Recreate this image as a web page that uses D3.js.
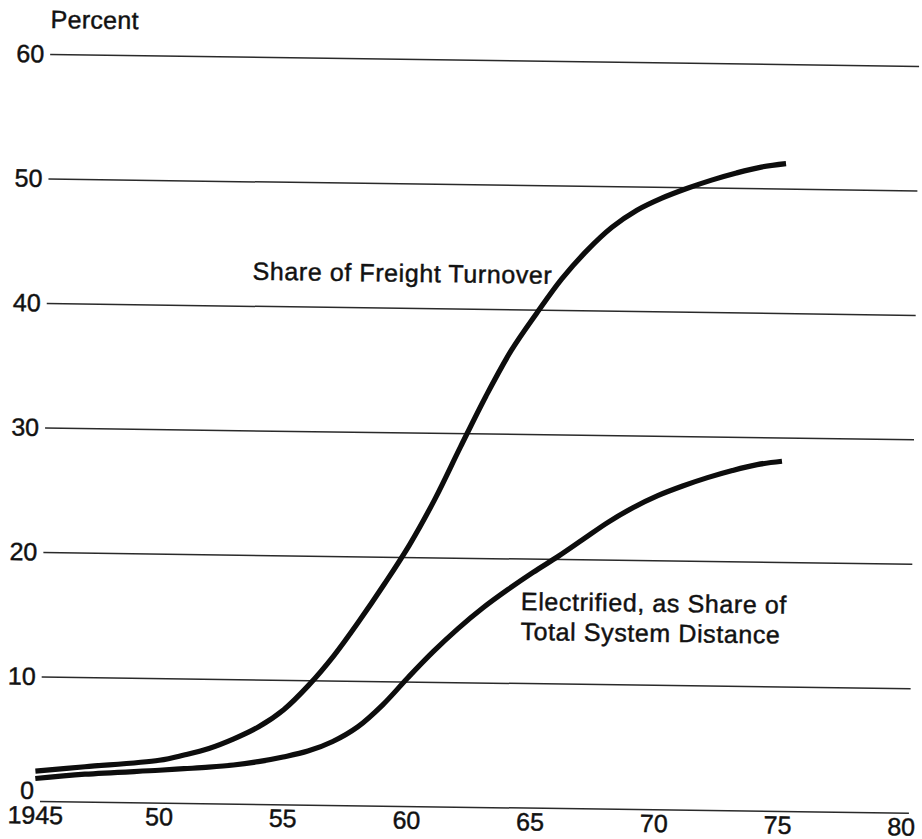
<!DOCTYPE html>
<html>
<head>
<meta charset="utf-8">
<script src="https://cdn.jsdelivr.net/npm/d3@7"></script>
<style>
  html, body { margin: 0; padding: 0; background: #fff; }
  svg { display: block; }
  text { font-family: "Liberation Sans", Arial, Helvetica, sans-serif; fill: #111; stroke: #111; stroke-width: 0.45px; }
</style>
</head>
<body>
<svg id="chart" width="922" height="839"></svg>
<script>
// ---- data ----
const years = [1945, 1947, 1950, 1951, 1952, 1953, 1954, 1955, 1956, 1957, 1958, 1959, 1960,
               1961, 1962, 1963, 1964, 1965, 1966, 1967, 1968, 1969, 1970, 1971, 1972, 1973, 1974, 1975];
const freightShare = [2.4, 2.8, 3.4, 3.85, 4.4, 5.2, 6.2, 7.6, 9.6, 12.0, 14.8, 17.8, 21.0,
                      24.7, 28.9, 33.0, 36.7, 39.7, 42.5, 44.8, 46.7, 48.1, 49.1, 49.9, 50.6, 51.2, 51.7, 52.0];
const electrifiedShare = [1.8, 2.2, 2.6, 2.75, 2.9, 3.1, 3.4, 3.8, 4.3, 5.1, 6.3, 8.1, 10.3,
                          12.4, 14.3, 16.0, 17.5, 18.9, 20.2, 21.6, 23.0, 24.2, 25.2, 26.0, 26.7, 27.3, 27.8, 28.1];
const yTicks = [0, 10, 20, 30, 40, 50, 60];
const xTicks = [1945, 1950, 1955, 1960, 1965, 1970, 1975, 1980];
const xTickLabels = ["1945", "50", "55", "60", "65", "70", "75", "80"];
const yTitle = "Percent";
const freightLabel = ["Share of Freight Turnover"];
const electrifiedLabel = ["Electrified, as Share of", "Total System Distance"];

// ---- layout ----
const svg = d3.select("#chart");
const x = d3.scaleLinear().domain([1945, 1980]).range([35, 901]);
const y = d3.scaleLinear().domain([0, 60]).range([801, 54]);
const gridLeft = 40, gridRight = 909;
const FS = 25;

// whole scanned page is slightly rotated
const g = svg.append("g").attr("transform", "rotate(0.78, 40, 801)");

// y axis with gridlines
const yAxis = d3.axisLeft(y)
  .tickValues(yTicks)
  .tickSizeInner(-(gridRight - gridLeft))
  .tickSizeOuter(0)
  .tickPadding(6)
  .tickFormat(d3.format("d"));
const ya = g.append("g").attr("transform", `translate(${gridLeft},0)`).call(yAxis);
ya.select(".domain").remove();
ya.selectAll(".tick line").attr("stroke", "#2a2a2a").attr("stroke-width", 1.5);
ya.selectAll(".tick text")
  .style("font-size", FS + "px")
  .attr("fill", "#111")
  .attr("dy", d => d === 0 ? "-0.1em" : "0.32em");

// x axis labels
const xAxis = d3.axisBottom(x)
  .tickValues(xTicks)
  .tickSize(0)
  .tickPadding(5)
  .tickFormat((d, i) => xTickLabels[i]);
const xa = g.append("g").attr("transform", `translate(0,${y(0)})`).call(xAxis);
xa.select(".domain").remove();
xa.selectAll(".tick text").style("font-size", FS + "px").attr("fill", "#111");

// lines
const line = d3.line()
  .x((d, i) => x(years[i]))
  .y(d => y(d))
  .curve(d3.curveCatmullRom.alpha(0.5));

[freightShare, electrifiedShare].forEach(series => {
  g.append("path")
    .datum(series)
    .attr("d", line)
    .attr("fill", "none")
    .attr("stroke", "#0d0d0d")
    .attr("stroke-width", 5.2)
    .attr("stroke-linecap", "butt")
    .attr("stroke-linejoin", "round");
});

// title "Percent"
g.append("text")
  .attr("x", x(1945.2))
  .attr("y", y(62.1))
  .style("font-size", FS + "px")
  .style("letter-spacing", "0.3px")
  .text(yTitle);

// annotations
function multiText(lines, xv, yv) {
  const t = g.append("text")
    .attr("x", x(xv))
    .attr("y", y(yv))
    .style("font-size", FS + "px")
    .style("letter-spacing", "0.6px");
  lines.forEach((s, i) => {
    t.append("tspan").attr("x", x(xv)).attr("dy", i === 0 ? 0 : 30).text(s);
  });
}
multiText(freightLabel, 1953.5, 42.1);
multiText(electrifiedLabel, 1964.53, 15.87);
</script>
</body>
</html>
